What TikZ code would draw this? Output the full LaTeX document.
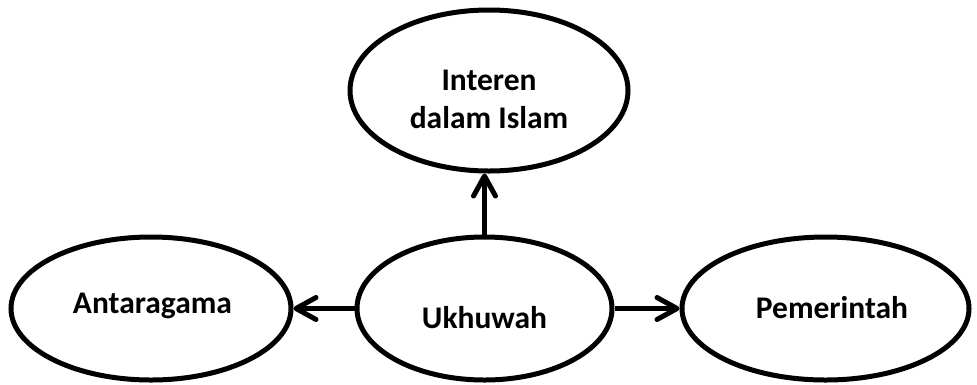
\documentclass[tikz,border=0pt]{standalone}
\usepackage{fontspec}
\setmainfont{Carlito}
\usetikzlibrary{shapes.geometric,arrows.meta}
\begin{document}
\begin{tikzpicture}[x=1pt,y=-1pt,
  oval/.style={draw=black,line width=5pt,ellipse,inner sep=0pt},
  lbl/.style={font=\bfseries\fontsize{31.5}{38}\selectfont,anchor=base,align=center,inner sep=0pt},
  conn/.style={line width=5pt,-{Straight Barb[length=20pt,width=22pt,line cap=round,line join=round]}}]
\useasboundingbox (0,0) rectangle (977,384);
\node[oval,minimum width=278pt,minimum height=161pt] (t) at (489,90.5) {};
\node[oval,minimum width=255pt,minimum height=143pt] (c) at (484.5,308.5) {};
\node[oval,minimum width=280pt,minimum height=143pt] (l) at (151,308.5) {};
\node[oval,minimum width=287pt,minimum height=143pt] (r) at (825.5,308.5) {};
\node[lbl] (tt) at (489,128) {Interen\\dalam Islam};
\node[lbl] (ct) at (484.5,328) {Ukhuwah};
\node[lbl] (lt) at (152.5,313) {Antaragama};
\node[lbl] (rt) at (832,318) {Pemerintah};
\draw[conn] (c.north) -- (c.north |- t.south);
\draw[conn] (c.west) -- (l.east);
\draw[conn] (c.east) -- (r.west);
\end{tikzpicture}
\end{document}
